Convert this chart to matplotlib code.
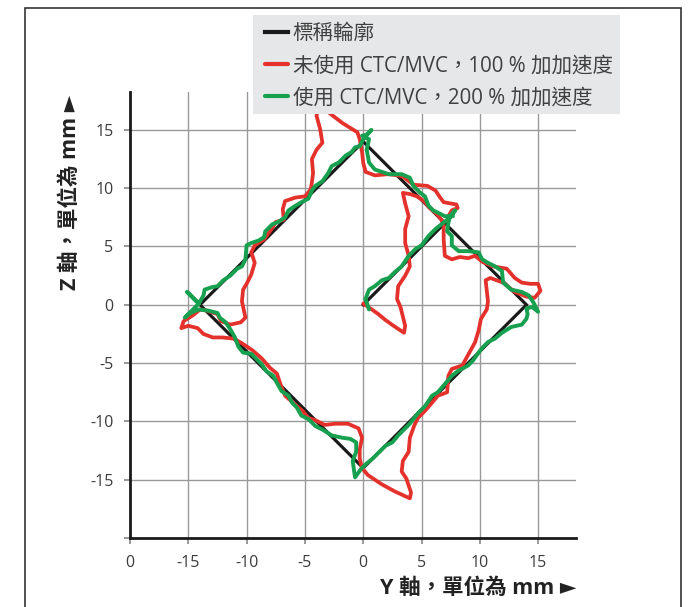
import matplotlib
matplotlib.use("Agg")
import matplotlib.pyplot as plt
from matplotlib.patches import Rectangle

plt.rcParams['font.family'] = ['Open Sans', 'Noto Sans CJK TC', 'DejaVu Sans']

# nominal contour (Y, Z in mm)
nominal_y = [0, 7, 14, 0, -14, 0, 7]
nominal_z = [0, 7, 0, -14, 0, 14, 7]

# without CTC/MVC, 100 % jerk
red_y = [0.0, 0.6, 1.3, 1.9, 2.6, 3.2, 3.5, 3.6, 3.4, 3.2, 2.9, 3.0, 3.6, 4.0, 3.9, 3.6, 3.6, 3.9, 3.6, 3.4,
         4.0, 4.6, 5.2, 5.7, 6.3, 6.7, 6.9, 6.9, 7.0, 7.6, 8.3, 9.0, 9.6, 10.2, 11.1, 12.3, 13.0, 13.6, 14.3, 15.0,
         15.2, 14.7, 14.0, 13.0, 12.0, 10.9, 10.5, 10.6, 10.7, 10.6, 10.1, 9.9, 9.6, 9.0, 8.5, 7.6, 7.3, 7.2, 6.4, 5.9,
         5.3, 4.7, 4.4, 4.0, 3.9, 3.4, 3.3, 3.7, 4.1, 4.0, 2.7, 1.6, 0.4, -0.1, -0.3, -0.3, -0.1, -0.4, -1.3, -2.4,
         -3.3, -4.1, -4.7, -5.2, -6.0, -6.7, -7.1, -7.4, -8.0, -8.7, -9.5, -10.4, -11.1, -12.1, -12.9, -13.7, -14.2, -15.0, -15.6, -15.4,
         -14.6, -14.0, -13.4, -12.5, -12.2, -11.4, -10.5, -10.1, -10.4, -10.3, -10.0, -9.6, -9.3, -9.6, -9.3, -8.5, -7.8, -7.5, -6.8, -6.9,
         -6.7, -5.8, -5.0, -4.5, -4.4, -4.3, -4.4, -4.0, -3.5, -3.7, -4.0, -3.8, -3.1, -1.8, -1.0, -0.5, -0.3, -0.1, 0.0, 0.2,
         1.0, 2.1, 3.0, 3.4, 4.3, 5.5, 6.2, 6.6, 6.9, 8.0, 8.1, 7.6, 7.3]
red_z = [0.1, -0.3, -0.8, -1.3, -1.8, -2.2, -2.4, -1.8, -1.0, -0.2, 0.5, 1.6, 2.5, 3.3, 4.2, 5.3, 6.5, 7.6, 8.7, 9.6,
         9.5, 9.3, 8.9, 8.3, 7.8, 7.3, 6.8, 5.6, 4.2, 3.9, 4.1, 4.0, 4.2, 3.7, 3.3, 3.1, 2.3, 1.9, 1.8, 1.8,
         1.2, 0.6, 0.7, 1.1, 1.9, 2.3, 2.1, 1.2, 0.3, -0.4, -1.2, -2.2, -3.2, -4.3, -5.2, -5.5, -6.1, -7.5, -7.8, -8.4,
         -9.1, -9.7, -10.3, -11.4, -12.6, -13.4, -14.3, -14.9, -16.1, -16.6, -16.0, -15.4, -14.6, -14.0, -13.2, -12.4, -11.4, -10.6, -10.2, -10.2,
         -10.3, -9.9, -9.7, -9.1, -8.4, -7.8, -6.8, -5.9, -5.4, -4.6, -3.9, -3.3, -2.9, -2.8, -2.8, -2.5, -2.0, -1.8, -2.0, -1.4,
         -0.9, -0.4, -0.5, -0.8, -1.4, -1.7, -1.5, -1.1, 0.3, 1.3, 1.8, 2.6, 3.6, 4.5, 5.1, 5.6, 6.6, 7.1, 7.3, 8.2,
         8.9, 9.2, 9.3, 9.9, 10.5, 11.3, 12.5, 13.3, 13.9, 15.1, 16.2, 17.4, 16.6, 15.6, 15.1, 14.8, 14.2, 13.1, 12.2, 11.4,
         11.1, 11.2, 11.1, 11.0, 10.3, 10.2, 9.8, 9.2, 8.8, 8.6, 8.3, 8.1, 7.6]

# with CTC/MVC, 200 % jerk
green_y = [0.5, 0.2, 0.5, 1.0, 1.6, 2.2, 2.7, 3.3, 3.9, 4.5, 5.0, 5.6, 6.2, 6.7, 7.2, 7.6, 7.9, 7.4, 7.3, 7.2,
           7.6, 7.6, 8.2, 9.0, 9.9, 10.2, 10.7, 11.3, 11.9, 12.0, 12.7, 13.6, 14.2, 14.6, 15.0, 14.5, 14.0, 14.1, 14.0, 13.6,
           12.7, 11.9, 11.3, 10.7, 10.2, 9.9, 9.4, 9.0, 8.1, 7.6, 7.0, 6.4, 5.9, 5.3, 4.7, 4.0, 3.6, 3.0, 2.5, 1.9,
           1.3, 0.8, 0.3, -0.2, -0.7, -0.8, -0.9, -0.6, -0.6, -1.1, -1.8, -2.7, -3.5, -4.1, -4.7, -5.3, -5.7, -6.1, -6.4, -7.0,
           -7.4, -7.7, -8.3, -8.7, -9.1, -9.6, -10.3, -10.7, -11.0, -11.4, -11.8, -12.3, -12.5, -13.3, -14.1, -14.8, -15.3, -14.7, -14.1, -14.6,
           -15.1, -14.6, -14.1, -13.7, -13.6, -13.0, -12.5, -12.0, -11.4, -10.8, -10.4, -10.1, -10.0, -9.6, -9.0, -8.5, -8.4, -7.8, -7.3, -6.7,
           -6.4, -5.8, -5.3, -4.7, -4.4, -4.1, -3.5, -3.0, -2.7, -2.1, -1.5, -1.0, -0.7, -0.3, 0.0, 0.7, 0.3, -0.1, 0.5, 0.3,
           0.5, 1.0, 2.2, 3.3, 4.0, 4.3, 4.9, 5.3, 5.6, 6.0, 6.4, 7.0, 7.7]
green_z = [-0.4, 0.5, 1.3, 1.6, 2.1, 2.3, 2.8, 3.3, 4.2, 4.8, 5.1, 5.9, 6.5, 6.9, 7.3, 7.8, 8.1, 7.4, 7.0, 6.3,
           5.9, 5.1, 4.6, 4.6, 4.5, 3.9, 3.6, 3.3, 2.9, 1.9, 1.3, 1.1, 0.8, 0.2, -0.6, -0.2, -0.3, -0.8, -1.2, -1.7,
           -1.9, -2.4, -2.9, -3.2, -3.7, -4.1, -4.8, -5.2, -5.7, -6.1, -6.8, -7.5, -7.8, -8.7, -9.3, -10.2, -10.6, -11.2, -11.8, -12.1,
           -12.7, -13.2, -13.6, -14.1, -14.8, -14.1, -13.4, -12.6, -11.8, -11.5, -11.4, -11.2, -10.7, -10.4, -9.8, -9.5, -8.8, -8.4, -7.8, -7.4,
           -6.7, -6.1, -5.7, -5.1, -4.7, -4.2, -4.1, -3.6, -2.8, -2.1, -1.5, -1.1, -0.7, -0.5, -0.4, -0.7, -1.1, -0.5, 0.1, 0.6,
           1.1, 0.6, 0.1, 0.8, 1.3, 1.5, 1.6, 2.1, 2.5, 3.1, 3.3, 3.9, 5.1, 5.3, 5.5, 5.8, 6.3, 6.9, 7.1, 7.5,
           8.1, 8.5, 8.8, 9.1, 9.8, 10.2, 10.6, 11.3, 11.9, 12.2, 12.8, 13.1, 13.5, 13.6, 14.2, 15.0, 14.6, 14.5, 14.2, 13.3,
           12.2, 11.6, 11.2, 11.2, 10.9, 10.2, 9.6, 9.3, 8.5, 8.1, 7.9, 7.6, 7.6]

legend_labels = ['標稱輪廓', '未使用 CTC/MVC，100 % 加加速度', '使用 CTC/MVC，200 % 加加速度']
tick_pos = [-20, -15, -10, -5, 0, 5, 10, 15]
x_tick_labels = ['0', '-15', '-10', '-5', '0', '5', '10', '15']
y_tick_labels = ['', '-15', '-10', '-5', '0', '5', '10', '15']

fig = plt.figure(figsize=(6.96, 6.07), dpi=100)
ax = fig.add_axes([130/696, 1-538/607, 446/696, 446/607])

ax.plot(nominal_y, nominal_z, color='#1a1a1a', lw=2.3, solid_joinstyle='miter', label=legend_labels[0], zorder=3)
ax.plot(red_y, red_z, color='#e4312b', lw=2.7, solid_joinstyle='round', solid_capstyle='round', label=legend_labels[1], zorder=4)
ax.plot(green_y, green_z, color='#17a04f', lw=2.8, solid_joinstyle='round', solid_capstyle='round', label=legend_labels[2], zorder=5)

ax.set_xlim(-20, 18.25)
ax.set_ylim(-20, 18.25)
ax.set_xticks(tick_pos)
ax.set_xticklabels(x_tick_labels)
ax.set_yticks(tick_pos)
ax.set_yticklabels(y_tick_labels)
ax.tick_params(axis='both', direction='out', length=4, width=1.2, color='#888888',
               labelsize=11.5, labelcolor='#3c3c3c')
ax.tick_params(axis='x', pad=8)
ax.tick_params(axis='y', pad=8)

for v in tick_pos[1:]:
    ax.axvline(v, color='#999999', lw=1.0, zorder=1)
    ax.axhline(v, color='#999999', lw=1.0, zorder=1)

for s in ['top', 'right']:
    ax.spines[s].set_visible(False)
for s in ['left', 'bottom']:
    ax.spines[s].set_linewidth(2.0)
    ax.spines[s].set_color('#1a1a1a')

fig.text(70/696, 1-95/607, 'Z 軸，單位為 mm ►', rotation=90, ha='center', va='top',
         fontsize=15.5, fontweight='bold', color='#222222')
fig.text(576/696, 1-588/607, 'Y 軸，單位為 mm ►', ha='right', va='center',
         fontsize=15.5, fontweight='bold', color='#222222')

# legend background box, drawn above the axes so the red trace is hidden under it
fig.patches.append(Rectangle((253/696, 1-114/607), 367/696, 99/607, transform=fig.transFigure,
                             facecolor='#e6e7e9', edgecolor='none', zorder=4))

leg = fig.legend(loc='upper left', bbox_to_anchor=(265/696, 1-23/607), borderaxespad=0,
                 fontsize=14.8, handlelength=1.1, handletextpad=0.25, borderpad=0,
                 labelspacing=0.55, frameon=False)
for t in leg.get_texts():
    t.set_color('#404040')
for h in leg.get_lines():
    h.set_linewidth(3)

fig.patches.append(Rectangle((25/696, -0.05), 656/696, 1.05-8/607, transform=fig.transFigure,
                             fill=False, edgecolor='#333333', lw=1.2, zorder=0))

fig.savefig('out.png', dpi=100)
